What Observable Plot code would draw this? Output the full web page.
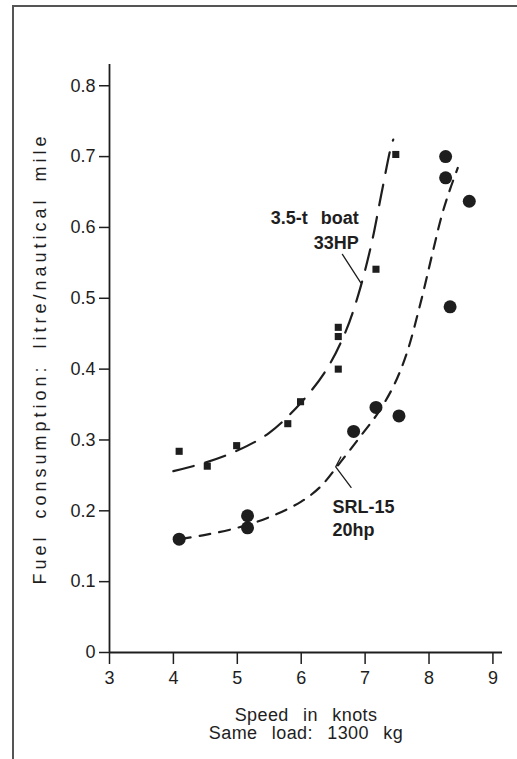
<!DOCTYPE html>
<html>
<head>
<meta charset="utf-8">
<script src="https://cdn.jsdelivr.net/npm/d3@7"></script>
<script src="https://cdn.jsdelivr.net/npm/@observablehq/plot@0.6"></script>
<style>
  html, body { margin: 0; padding: 0; background: #fff; }
  #wrap { position: relative; width: 517px; height: 759px; overflow: hidden; }
  #border { position: absolute; left: 12px; top: 5px; width: 600px; height: 752px;
            border-left: 2px solid #555; border-top: 2px solid #555; pointer-events: none; }
</style>
</head>
<body>
<div id="wrap"><div id="border"></div></div>
<script>
// 3.5-t boat, 33HP (squares)
const boatSpeed = [4.09, 4.53, 4.99, 5.79, 5.99, 6.58, 6.58, 6.58, 7.17, 7.48];
const boatFuel  = [0.284, 0.263, 0.292, 0.323, 0.354, 0.400, 0.446, 0.459, 0.541, 0.703];
// SRL-15, 20hp (circles)
const srlSpeed = [4.09, 5.16, 5.16, 6.82, 7.17, 7.53, 8.33, 8.26, 8.26, 8.63];
const srlFuel  = [0.160, 0.193, 0.176, 0.312, 0.346, 0.334, 0.488, 0.700, 0.670, 0.637];
// hand-drawn fitted curves
const boatCurveSpeed = [4.0, 4.5, 5.0, 5.5, 6.0, 6.4, 6.7, 6.9, 7.1, 7.25, 7.4, 7.44];
const boatCurveFuel  = [0.256, 0.268, 0.285, 0.310, 0.353, 0.400, 0.454, 0.507, 0.577, 0.645, 0.712, 0.724];
const srlCurveSpeed = [4.1, 4.5, 5.0, 5.5, 6.0, 6.3, 6.6, 6.9, 7.2, 7.45, 7.65, 7.85, 8.05, 8.2, 8.33, 8.45];
const srlCurveFuel  = [0.160, 0.166, 0.176, 0.191, 0.213, 0.234, 0.267, 0.302, 0.338, 0.377, 0.422, 0.487, 0.562, 0.617, 0.654, 0.684];
// annotations
const annoText  = ["3.5-t boat\n33HP", "SRL-15\n20hp"];
const annoSpeed = [6.90, 6.49];
const annoFuel  = [0.599, 0.191];
const boatLeaderSpeed = [6.645, 6.93];
const boatLeaderFuel  = [0.562, 0.522];
const srlLeaderSpeed = [6.62, 6.54, 6.78];
const srlLeaderFuel  = [0.276, 0.262, 0.233];
// ticks
const xTicks = [3, 4, 5, 6, 7, 8, 9];
const yTicks = [0, 0.1, 0.2, 0.3, 0.4, 0.5, 0.6, 0.7, 0.8];
const xLabel = "Speed in knots\nSame load: 1300 kg";
const yLabel = "Fuel consumption: litre/nautical mile";

const boat = boatSpeed.map((s, i) => ({speed: s, fuel: boatFuel[i]}));
const srl = srlSpeed.map((s, i) => ({speed: s, fuel: srlFuel[i]}));
const boatCurve = boatCurveSpeed.map((s, i) => ({speed: s, fuel: boatCurveFuel[i]}));
const srlCurve = srlCurveSpeed.map((s, i) => ({speed: s, fuel: srlCurveFuel[i]}));
const annos = annoText.map((t, i) => ({text: t, speed: annoSpeed[i], fuel: annoFuel[i]}));
const boatLeader = boatLeaderSpeed.map((s, i) => ({speed: s, fuel: boatLeaderFuel[i]}));
const srlLeader = srlLeaderSpeed.map((s, i) => ({speed: s, fuel: srlLeaderFuel[i]}));

const ink = "#1e1e1e";
const chart = Plot.plot({
  width: 517,
  height: 759,
  marginTop: 64,
  marginBottom: 107,
  marginLeft: 109,
  marginRight: 15,
  style: {fontFamily: "'Liberation Sans', Arial, sans-serif", fontSize: "18px", color: ink, background: "transparent"},
  x: {domain: [3, 9.15]},
  y: {domain: [0, 0.83]},
  marks: [
    Plot.axisX({ticks: xTicks, tickSize: 12, tickPadding: 4, fontSize: 18, strokeWidth: 1.5,
                tickFormat: d => String(d),
                label: xLabel, labelAnchor: "center", labelArrow: "none", labelOffset: 86, lineHeight: 1.18}),
    Plot.axisY({ticks: yTicks, tickSize: 10, tickPadding: 4, fontSize: 18, strokeWidth: 1.5,
                tickFormat: d => d === 0 ? "0" : d.toFixed(1),
                label: yLabel, labelAnchor: "center", labelArrow: "none", labelOffset: 76}),
    Plot.ruleY([0], {stroke: ink, strokeWidth: 1.8}),
    Plot.ruleX([3], {stroke: ink, strokeWidth: 1.8}),
    Plot.line(boatCurve, {x: "speed", y: "fuel", curve: "catmull-rom", stroke: ink, strokeWidth: 2.2, strokeDasharray: "21,12"}),
    Plot.line(srlCurve, {x: "speed", y: "fuel", curve: "catmull-rom", stroke: ink, strokeWidth: 2.2, strokeDasharray: "11,9"}),
    Plot.line(boatLeader, {x: "speed", y: "fuel", stroke: ink, strokeWidth: 1.3}),
    Plot.line(srlLeader, {x: "speed", y: "fuel", stroke: ink, strokeWidth: 1.3}),
    Plot.dot(boat, {x: "speed", y: "fuel", symbol: "square", r: 4, fill: ink, stroke: "none"}),
    Plot.dot(srl, {x: "speed", y: "fuel", r: 6.5, fill: ink, stroke: "none"}),
    Plot.text(annos.slice(0, 1), {x: "speed", y: "fuel", text: "text", textAnchor: "end", fontWeight: "bold", fontSize: 18, lineHeight: 1.39, fill: ink}),
    Plot.text(annos.slice(1), {x: "speed", y: "fuel", text: "text", textAnchor: "start", fontWeight: "bold", fontSize: 18, lineHeight: 1.28, fill: ink})
  ]
});
document.getElementById("wrap").prepend(chart);
d3.select(chart).selectAll("text").each(function() {
  const t = this.textContent;
  if (t.startsWith("Fuel")) d3.select(this).attr("letter-spacing", "4px").attr("word-spacing", "6px");
  if (t.startsWith("Speed")) d3.select(this).attr("word-spacing", "9px").attr("letter-spacing", "0.4px");
  if (t.startsWith("3.5")) d3.select(this).attr("word-spacing", "8px");
});
</script>
</body>
</html>
